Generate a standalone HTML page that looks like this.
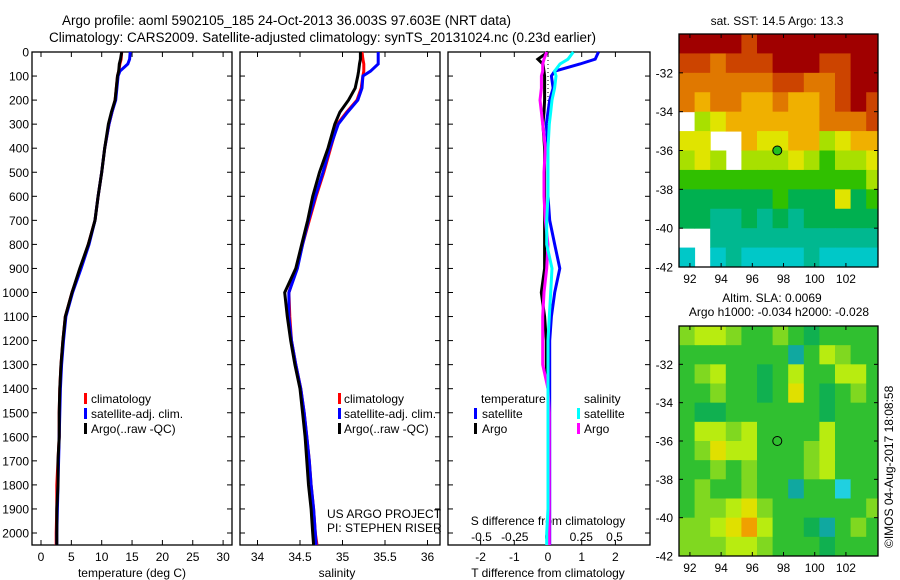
<!DOCTYPE html>
<html><head><meta charset="utf-8"><style>
html,body{margin:0;padding:0;background:#fff;}
svg{display:block;font-family:"Liberation Sans",sans-serif;}
text{font-size:12px;fill:#000;}
</style></head><body>
<svg id="chart" width="900" height="580" viewBox="0 0 900 580" xmlns="http://www.w3.org/2000/svg">
<text x="62" y="25" style="font-size:13.5px">Argo profile: aoml 5902105_185 24-Oct-2013 36.003S 97.603E (NRT data)</text>
<text x="49" y="42" style="font-size:13.5px">Climatology: CARS2009. Satellite-adjusted climatology: synTS_20131024.nc (0.23d earlier)</text>
<g id="g"></g>
</svg>
<script>
// depth levels (m)
const depths = [0,30,50,80,100,150,200,250,300,400,500,600,700,800,900,1000,1100,1200,1300,1400,1500,1600,1700,1800,1900,2000,2050];
// temperature (deg C)
const tempArgo = [13.3,13.1,12.9,12.8,12.6,12.4,12.2,11.6,11.1,10.5,10.0,9.4,8.9,7.8,6.4,5.1,4.0,3.6,3.3,3.1,3.0,3.0,2.8,2.8,2.6,2.6,2.6];
const tempClim = [13.3,13.2,13.0,12.8,12.6,12.4,12.2,11.7,11.2,10.5,10.0,9.4,8.9,7.8,6.5,5.1,4.0,3.6,3.3,3.1,3.0,3.0,2.8,2.6,2.6,2.5,2.5];
const tempSat  = [14.7,14.6,14.3,13.0,12.7,12.5,12.3,11.7,11.2,10.5,10.0,9.4,8.9,7.9,6.6,5.2,4.1,3.7,3.4,3.2,3.1,3.0,2.9,2.8,2.7,2.6,2.6];
// salinity
const salArgo = [35.21,35.21,35.20,35.19,35.18,35.15,35.07,34.97,34.91,34.83,34.73,34.65,34.59,34.52,34.45,34.32,34.35,34.39,34.44,34.50,34.53,34.56,34.58,34.60,34.63,34.65,34.66];
const salClim = [35.23,35.24,35.25,35.25,35.24,35.22,35.17,35.05,34.94,34.86,34.78,34.69,34.61,34.53,34.46,34.37,34.38,34.40,34.45,34.51,34.55,34.58,34.61,34.63,34.66,34.68,34.70];
const salSat  = [35.42,35.42,35.42,35.33,35.24,35.23,35.18,35.06,34.95,34.85,34.77,34.68,34.60,34.53,34.47,34.37,34.37,34.40,34.45,34.51,34.55,34.58,34.61,34.63,34.66,34.68,34.69];
// differences from climatology
const dTsat  = [1.5,1.4,0.95,0.2,0.1,0.15,0.05,0.0,-0.05,0.0,0.0,0.0,0.05,0.2,0.35,0.2,0.1,0.05,0.05,0.05,0.05,0.05,0.05,0.05,0.05,0.05,0.05];
const dTargo = [0.0,-0.3,-0.15,-0.12,-0.1,-0.1,-0.1,-0.12,-0.15,-0.1,-0.1,-0.1,-0.1,-0.1,-0.1,-0.2,-0.1,-0.05,-0.05,0.0,0.0,0.0,0.0,0.0,0.0,0.0,0.0];
const dSsat  = [0.19,0.15,0.09,0.05,0.06,0.05,0.03,0.02,0.01,0.0,0.0,0.0,-0.01,-0.01,0.03,0.02,0.01,0.0,0.0,0.0,0.0,0.0,0.0,0.0,0.0,-0.01,-0.01];
const dSargo = [-0.01,-0.03,-0.04,-0.04,-0.05,-0.05,-0.06,-0.05,-0.04,-0.02,-0.03,-0.03,-0.02,0.0,-0.01,-0.03,-0.04,-0.04,-0.04,0.0,0.01,0.01,0.01,0.01,0.01,0.01,0.01];
// tick labels
const depthTicks = [0,100,200,300,400,500,600,700,800,900,1000,1100,1200,1300,1400,1500,1600,1700,1800,1900,2000];
const tempTicks = [0,5,10,15,20,25,30];
const salTicks = [34,34.5,35,35.5,36];
const tdTicks = [-2,-1,0,1,2];
const sdTicks = [-0.5,-0.25,0,0.25,0.5];
const lonTicks = [92,94,96,98,100,102];
const latTicks = [-32,-34,-36,-38,-40,-42];
// SST map categories (row = 1 deg lat from -30, col = 1 deg lon from 91.3), -1 = no data
const sstGrid = [
[9,9,9,9,8,9,9,9,9,9,9,9,9],
[8,8,7,8,8,8,9,9,9,8,8,9,9],
[7,7,7,7,7,7,8,8,7,7,8,9,9],
[7,6,7,7,6,6,7,6,6,7,8,9,8],
[-1,4,5,6,6,6,6,6,6,7,7,7,8],
[5,5,-1,-1,6,5,5,6,6,4,5,6,6],
[4,5,4,-1,4,4,4,5,4,3,4,4,5],
[3,3,3,3,3,3,3,3,3,3,3,3,4],
[2,2,2,2,2,2,3,2,2,2,5,2,3],
[2,2,1,1,2,1,2,1,2,2,2,2,2],
[-1,-1,1,1,1,1,1,1,1,1,1,1,1],
[0,-1,0,1,0,0,0,0,1,0,0,0,0]];
const sstColors = ["#00c8c8","#00b890","#00b050","#30c000","#a8e000","#e0e400","#f0b000","#e07800","#cc4400","#a00000"];
// SLA map categories
const slaGrid = [
[4,5,5,4,3,3,4,3,2,3,3,3,3],
[3,3,3,3,3,3,3,1,3,5,4,3,3],
[3,4,5,3,3,2,3,5,3,3,5,5,3],
[3,3,4,3,3,2,3,6,3,2,3,4,3],
[3,2,2,3,3,3,3,3,3,2,3,3,3],
[3,5,5,4,5,3,3,3,3,5,3,3,3],
[3,4,6,5,5,3,3,3,4,5,3,3,3],
[3,3,4,3,4,3,3,3,4,5,3,3,3],
[3,4,3,3,4,3,3,1,3,3,0,3,3],
[3,4,4,5,6,4,3,3,3,3,3,3,4],
[4,4,5,6,7,5,3,3,2,1,3,4,3],
[4,4,4,5,5,4,3,3,3,2,3,3,3]];
const slaColors = ["#20d0e0","#10a8a0","#10b050","#30c030","#80d820","#b8ec10","#e0e000","#f0a000"];
const argoLon = 97.6, argoLat = -36.0;

const NS="http://www.w3.org/2000/svg";
const G=document.getElementById('g');
function el(t,a,p){const e=document.createElementNS(NS,t);for(const k in a)e.setAttribute(k,a[k]);(p||G).appendChild(e);return e;}
const yD = d => 52 + d*0.2405;
const pTop=52, pBot=545;
const xT = v => 41 + v*6.07;
const xS = v => 257.5 + (v-34)*85;
const xTd = v => 548 + v*33.7;
const xSd = v => 548 + v*133;

function panel(x0,x1,name){
  const r=el('rect',{x:x0,y:pTop,width:x1-x0,height:pBot-pTop,fill:'none',stroke:'#000','stroke-width':1.3});
  
  
  depthTicks.forEach(d=>{
    el('line',{x1:x0,x2:x0+5,y1:yD(d),y2:yD(d),stroke:'#000'});
    el('line',{x1:x1-5,x2:x1,y1:yD(d),y2:yD(d),stroke:'#000'});
  });
}
function xticks(ticks,fx,name,ly){
  ticks.forEach(v=>{
    const x=fx(v);
    el('line',{x1:x,x2:x,y1:pTop,y2:pTop+5,stroke:'#000'});
    el('line',{x1:x,x2:x,y1:pBot,y2:pBot-5,stroke:'#000'});
    const t=el('text',{x:x,y:ly,'text-anchor':'middle'});
    t.textContent=String(v);
    
    
  });
}
function line(xs,f,color,name,w){
  const pts=depths.map((d,i)=>f(xs[i]).toFixed(1)+','+yD(d).toFixed(1)).join(' ');
  const p=el('polyline',{points:pts,fill:'none',stroke:color,'stroke-width':w||3,'stroke-linejoin':'miter'});
  
  
}
function txt(x,y,s,name,extra){
  const t=el('text',Object.assign({x:x,y:y},extra||{}));
  t.textContent=s;
  
  
  return t;
}
function legBar(x,y,c,name){
  const r=el('rect',{x:x,y:y-9,width:3,height:11,fill:c});
  
  
}

panel(32,232,'temperature-panel');
panel(240,440,'salinity-panel');
panel(448,650,'difference-panel');
depthTicks.forEach(d=>{ txt(29,yD(d)+4.5,String(d),'depth-tick-label',{'text-anchor':'end'}); });
xticks(tempTicks,xT,'temperature-tick-label',561);
xticks(salTicks,xS,'salinity-tick-label',561);
xticks(tdTicks,xTd,'t-diff-tick-label',561);
sdTicks.forEach(v=>{ txt(xSd(v),541,String(v),'s-diff-tick-label',{'text-anchor':'middle'}); });
txt(132,577,'temperature (deg C)','temperature-axis-title',{'text-anchor':'middle'});
txt(337,577,'salinity','salinity-axis-title',{'text-anchor':'middle'});
txt(548,577,'T difference from climatology','t-diff-axis-title',{'text-anchor':'middle'});
txt(548,525,'S difference from climatology','s-diff-axis-title',{'text-anchor':'middle'});

line(tempClim,xT,'#ff0000','temp-climatology-line');
line(tempSat,xT,'#0000ff','temp-satellite-line');
line(tempArgo,xT,'#000000','temp-argo-line');
line(salClim,xS,'#ff0000','sal-climatology-line');
line(salSat,xS,'#0000ff','sal-satellite-line');
line(salArgo,xS,'#000000','sal-argo-line');
el('line',{x1:548,x2:548,y1:52,y2:160,stroke:'#000','stroke-dasharray':'1,3'});
line(dTsat,xTd,'#0000ff','t-diff-satellite-line');
line(dTargo,xTd,'#000000','t-diff-argo-line');
line(dSargo,xSd,'#ff00ff','s-diff-argo-line');
line(dSsat,xSd,'#00ffff','s-diff-satellite-line');

[['climatology','#ff0000'],['satellite-adj. clim.','#0000ff'],['Argo(..raw -QC)','#000000']].forEach((l,i)=>{
  legBar(84,402+i*15,l[1],'legend-swatch');
  txt(91,403+i*15,l[0],'legend-entry');
  legBar(338,402+i*15,l[1],'legend-swatch');
  txt(344,403+i*15,l[0],'legend-entry');
});
txt(481,403,'temperature','legend-header-temperature');
txt(584,403,'salinity','legend-header-salinity');
legBar(474,417,'#0000ff','legend-swatch'); txt(482,418,'satellite','legend-entry');
legBar(474,432,'#000000','legend-swatch'); txt(482,433,'Argo','legend-entry');
legBar(577,417,'#00ffff','legend-swatch'); txt(584,418,'satellite','legend-entry');
legBar(577,432,'#ff00ff','legend-swatch'); txt(584,433,'Argo','legend-entry');
txt(327,518,'US ARGO PROJECT','project-label');
txt(327,532,'PI: STEPHEN RISER','pi-label');

function map(y0,y1,grid,colors,name,fill){
  const x0=679,x1=878;
  const fx=lon=>x0+(lon-91.3)*15.6;
  const fy=lat=>y0+(-30.0-lat)*((y1-y0)/12);
  grid.forEach((row,r)=>row.forEach((v,c)=>{
    if(v<0)return;
    const xa=fx(91.3+c), xb=Math.min(fx(92.3+c),x1);
    const ya=fy(-30-r), yb=fy(-31-r);
    const rc=el('rect',{x:xa,y:ya,width:xb-xa+0.5,height:yb-ya+0.5,fill:colors[v]});
    
    
  }));
  const fr=el('rect',{x:x0,y:y0,width:x1-x0,height:y1-y0,fill:'none',stroke:'#000','stroke-width':1.3});
  
  
  lonTicks.forEach(v=>{
    const x=fx(v);
    el('line',{x1:x,x2:x,y1:y0,y2:y0+4,stroke:'#000'});
    el('line',{x1:x,x2:x,y1:y1,y2:y1-4,stroke:'#000'});
    txt(x,y1+16,String(v),'lon-tick-label',{'text-anchor':'middle'});
  });
  latTicks.forEach(v=>{
    const y=fy(v);
    el('line',{x1:x0,x2:x0+4,y1:y,y2:y,stroke:'#000'});
    el('line',{x1:x1-4,x2:x1,y1:y,y2:y,stroke:'#000'});
    txt(x0-6,y+4.5,String(v),'lat-tick-label',{'text-anchor':'end'});
  });
  const m=el('circle',{cx:fx(argoLon),cy:fy(argoLat),r:4.5,fill:fill,stroke:'#000','stroke-width':1});
  
  
}
map(34,267,sstGrid,sstColors,'sst-map','#20c020');
map(326,556,slaGrid,slaColors,'sla-map','none');
txt(777,25,'sat. SST: 14.5 Argo: 13.3','sst-map-title',{'text-anchor':'middle'});
txt(772,302,'Altim. SLA: 0.0069','sla-map-title-1',{'text-anchor':'middle'});
txt(779,316,'Argo h1000: -0.034 h2000: -0.028','sla-map-title-2',{'text-anchor':'middle'});
txt(0,0,'©IMOS 04-Aug-2017 18:08:58','timestamp-label',{transform:'translate(893,548) rotate(-90)'});
</script>
</body></html>
